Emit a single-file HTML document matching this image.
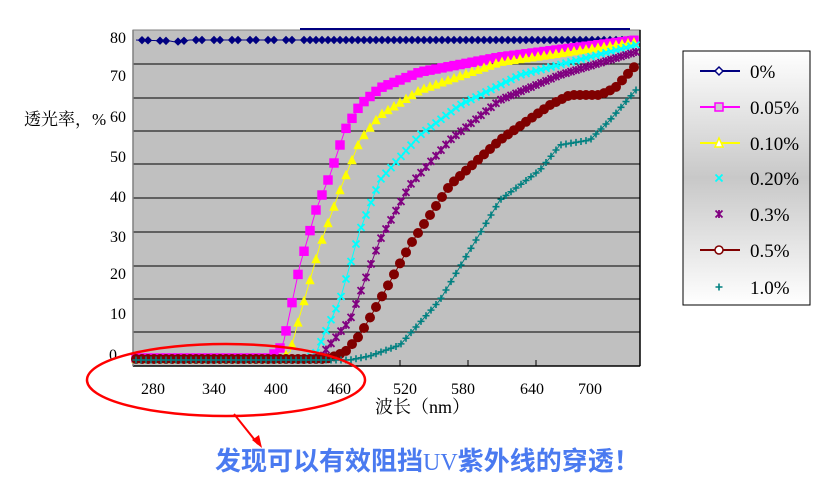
<!DOCTYPE html>
<html><head><meta charset="utf-8"><style>
body{margin:0;background:#fff;width:824px;height:483px;overflow:hidden}
svg{display:block;font-family:"Liberation Serif","Noto Serif CJK SC",serif}
</style></head><body>
<svg id="s" width="824" height="483" viewBox="0 0 824 483">
<defs>
<linearGradient id="lg" x1="0" y1="0" x2="0" y2="1">
<stop offset="0" stop-color="#fff"/><stop offset="0.5" stop-color="#c8c8c8"/><stop offset="1" stop-color="#fff"/>
</linearGradient>
</defs>
<rect x="133" y="30" width="507" height="336" fill="#c0c0c0"/>
<g stroke="#000" stroke-width="1">
<line x1="133" y1="64" x2="640" y2="64"/><line x1="133" y1="98" x2="640" y2="98"/>
<line x1="133" y1="131" x2="640" y2="131"/><line x1="133" y1="164" x2="640" y2="164"/>
<line x1="133" y1="198" x2="640" y2="198"/><line x1="133" y1="232" x2="640" y2="232"/>
<line x1="133" y1="266" x2="640" y2="266"/><line x1="133" y1="299" x2="640" y2="299"/>
<line x1="133" y1="332" x2="640" y2="332"/>
</g>
<rect x="133" y="30" width="507" height="336" fill="none" stroke="#808080" stroke-width="1"/>
<line x1="133" y1="366" x2="640" y2="366" stroke="#000" stroke-width="1.5"/>
<line x1="640" y1="30" x2="640" y2="366" stroke="#000" stroke-width="1.5"/>
<line x1="133" y1="30" x2="133" y2="366" stroke="#808080" stroke-width="1.5"/>
<line x1="300" y1="29" x2="630" y2="29" stroke="#000080" stroke-width="2"/>
<g stroke="#000"><line x1="400" y1="360" x2="400" y2="366"/><line x1="468" y1="360" x2="468" y2="366"/><line x1="536" y1="360" x2="536" y2="366"/></g>
<g id="series"></g>
<g font-size="16" fill="#000" text-anchor="end">
<text x="126" y="43">80</text><text x="126" y="81">70</text><text x="126" y="122">60</text>
<text x="126" y="162">50</text><text x="126" y="202">40</text><text x="126" y="242">30</text>
<text x="126" y="279">20</text><text x="126" y="319">10</text><text x="117" y="360">0</text>
</g>
<text x="24" y="125" font-size="17">透光率，%</text>
<g font-size="16" text-anchor="middle">
<text x="153" y="394">280</text><text x="214" y="394">340</text><text x="276" y="394">400</text>
<text x="339" y="394">460</text><text x="405" y="394">520</text><text x="463" y="394">580</text>
<text x="532" y="394">640</text><text x="590" y="394">700</text>
</g>
<text x="375" y="413" font-size="18">波长（nm）</text>
<ellipse cx="226" cy="380" rx="139" ry="36" fill="none" stroke="#f00" stroke-width="2.5"/>
<line x1="234" y1="414" x2="258" y2="444" stroke="#f00" stroke-width="2"/>
<polygon points="262,448 252,440 259,435" fill="#f00"/>
<text x="215" y="470" font-size="26" font-weight="bold" fill="#4a7af0" font-family="'Noto Sans CJK SC',sans-serif">发现可以有效阻挡<tspan font-family="'Liberation Serif',serif" font-weight="normal" font-size="24">UV</tspan>紫外线的穿透！</text>
<rect x="683" y="51" width="127" height="254" fill="url(#lg)" stroke="#000" stroke-width="1"/>
<g id="leg"></g>
<g font-size="19">
<text x="750" y="78">0%</text><text x="750" y="114">0.05%</text><text x="750" y="150">0.10%</text>
<text x="750" y="185">0.20%</text><text x="750" y="221">0.3%</text><text x="750" y="257">0.5%</text><text x="750" y="294">1.0%</text>
</g>
</svg>
<script>
var NS="http://www.w3.org/2000/svg";
function el(t,a,p){var e=document.createElementNS(NS,t);for(var k in a)e.setAttribute(k,a[k]);p.appendChild(e);return e;}
function interp(pts,x){if(x<=pts[0][0])return pts[0][1];for(var i=1;i<pts.length;i++){if(x<=pts[i][0]){var a=pts[i-1],b=pts[i];return a[1]+(b[1]-a[1])*(x-a[0])/(b[0]-a[0]);}}return pts[pts.length-1][1];}
function marker(type,c,x,y,p,s){
 s=s||1;
 if(type=="d")el("polygon",{points:(x)+","+(y-4*s)+" "+(x+4*s)+","+y+" "+x+","+(y+4*s)+" "+(x-4*s)+","+y,fill:c},p);
 else if(type=="sq")el("rect",{x:x-4.5*s,y:y-4.5*s,width:9*s,height:9*s,fill:c},p);
 else if(type=="tr")el("polygon",{points:x+","+(y-5*s)+" "+(x+4.5*s)+","+(y+4*s)+" "+(x-4.5*s)+","+(y+4*s),fill:c},p);
 else if(type=="x"){el("path",{d:"M"+(x-3.5)+" "+(y-3.5)+"L"+(x+3.5)+" "+(y+3.5)+"M"+(x+3.5)+" "+(y-3.5)+"L"+(x-3.5)+" "+(y+3.5),stroke:c,"stroke-width":1.8,fill:"none"},p);}
 else if(type=="xs"){el("path",{d:"M"+(x-3.5)+" "+(y-3.5)+"L"+(x+3.5)+" "+(y+3.5)+"M"+(x+3.5)+" "+(y-3.5)+"L"+(x-3.5)+" "+(y+3.5)+"M"+x+" "+(y-4)+"L"+x+" "+(y+4),stroke:c,"stroke-width":1.8,fill:"none"},p);}
 else if(type=="o")el("circle",{cx:x,cy:y,r:5*s,fill:c},p);
 else if(type=="+")el("path",{d:"M"+(x-3.5)+" "+y+"L"+(x+3.5)+" "+y+"M"+x+" "+(y-3.5)+"L"+x+" "+(y+3.5),stroke:c,"stroke-width":1.6,fill:"none"},p);
}
var S=[
 {c:"#000080",m:"d",step:6,pts:[[136,40],[170,41],[175,42],[190,40],[220,40],[240,40],[300,40],[636,40]],sparse:true},
 {c:"#ff00ff",m:"sq",step:6,pts:[[136,358],[270,358],[283,345],[300,265],[316,210],[330,175],[345,130],[360,105],[380,88],[420,72],[500,57],[636,40]]},
 {c:"#ffff00",m:"tr",step:6,pts:[[136,359],[280,359],[290,352],[300,315],[320,245],[340,190],[360,140],[380,115],[420,90],[500,62],[636,42]]},
 {c:"#00ffff",m:"x",step:5,pts:[[136,359],[305,359],[315,355],[340,300],[360,230],[380,180],[420,135],[460,105],[520,75],[636,45]]},
 {c:"#800080",m:"xs",step:5,pts:[[136,359],[312,359],[320,357],[350,320],[380,240],[410,185],[450,140],[500,100],[560,75],[636,52]]},
 {c:"#800000",m:"o",step:6,pts:[[136,359],[322,359],[330,358],[345,352],[360,335],[380,300],[410,245],[450,185],[500,140],[550,105],[570,95],[600,95],[615,88],[636,65]]},
 {c:"#008080",m:"+",step:5,pts:[[136,360],[350,360],[370,356],[400,345],[440,300],[470,250],[500,200],[540,170],[560,145],[590,140],[610,120],[636,90]]}
];
var g=document.getElementById("series");
S.forEach(function(s){
 var d="";for(var x=136;x<=636;x+=2){d+=(x==136?"M":"L")+x+" "+interp(s.pts,x).toFixed(1);}
 el("path",{d:d,stroke:s.c,fill:"none","stroke-width":1},g);
 for(var x=136;x<=636;x+=s.step){
  if(s.sparse && x<300 && ((x/6|0)%3==1))continue;
  marker(s.m,s.c,x,interp(s.pts,x),g,s.m=="o"?1:1.05);
 }
});
var L=document.getElementById("leg");
var ly=[71,107,143,178,214,250,287];
S.forEach(function(s,i){
 var y=ly[i];
 if(i<3||i==5)el("line",{x1:700,y1:y,x2:740,y2:y,stroke:s.c,"stroke-width":2},L);
 if(s.m=="d")el("polygon",{points:"719,"+(y-4)+" 723,"+y+" 719,"+(y+4)+" 715,"+y,fill:"#fff",stroke:s.c,"stroke-width":1.5},L);
 else if(s.m=="sq")el("rect",{x:715,y:y-4,width:8,height:8,fill:"#ccc",stroke:s.c,"stroke-width":1.5},L);
 else if(s.m=="tr")el("polygon",{points:"719,"+(y-5)+" 723,"+(y+4)+" 715,"+(y+4),fill:"#fff",stroke:s.c,"stroke-width":1.5},L);
 else if(s.m=="o")el("circle",{cx:719,cy:y,r:4,fill:"#fff",stroke:s.c,"stroke-width":1.5},L);
 else marker(s.m,s.c,719,y,L);
});
</script>
</body></html>
